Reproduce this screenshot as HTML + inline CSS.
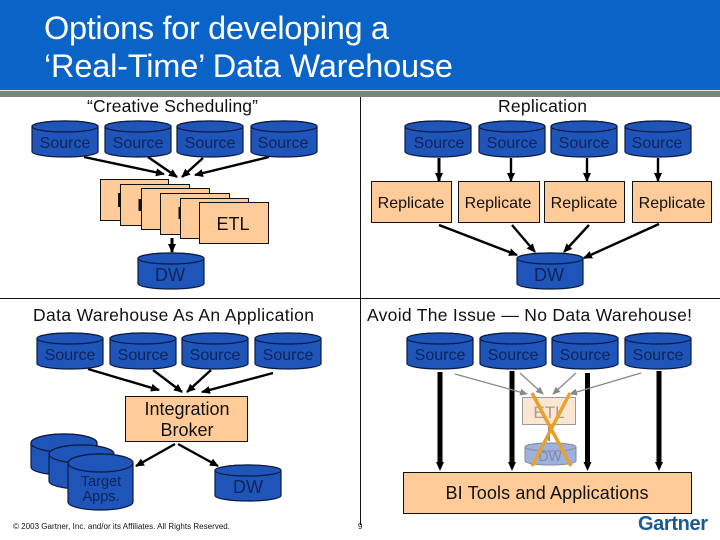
<!DOCTYPE html>
<html><head><meta charset="utf-8"><style>
html,body{margin:0;padding:0;background:#fff;width:720px;height:540px;overflow:hidden}
svg{display:block}
text{font-family:"Liberation Sans",sans-serif}
.s{font-size:16px;fill:#0e2358;text-anchor:middle}
.d{font-size:18px;fill:#0e2358;text-anchor:middle}
.h{font-size:17.5px;fill:#111}
.r{font-size:16px;fill:#111;text-anchor:middle}
.b{fill:#ffcc99;stroke:#111;stroke-width:1}
.c{fill:#1f55b8;stroke:#0a1a40;stroke-width:1.2}
.a{stroke:#000;stroke-width:2.4;fill:none;marker-end:url(#m)}
.g{stroke:#888;stroke-width:1.3;fill:none;marker-end:url(#mg)}
.t{stroke:#000;stroke-width:5;fill:none}
</style></head><body>
<svg width="720" height="540" viewBox="0 0 720 540" xmlns="http://www.w3.org/2000/svg">
<defs>
<marker id="m" markerUnits="userSpaceOnUse" markerWidth="9" markerHeight="8" refX="8" refY="4" orient="auto"><path d="M0 0L9 4L0 8Z" fill="#000"/></marker>
<marker id="mg" markerUnits="userSpaceOnUse" markerWidth="8" markerHeight="7" refX="7" refY="3.5" orient="auto"><path d="M0 0L8 3.5L0 7Z" fill="#888"/></marker>
<g id="cy"><path class="c" d="M0 5.5A33 5.5 0 0 1 66 5.500V30.500A33 5.5 0 0 1 0 30.500Z"/><ellipse class="c" cx="33" cy="5.5" rx="33" ry="5.5"/></g>
</defs>
<rect x="0" y="0" width="720" height="90" fill="#0a63c6"/>
<rect x="0" y="90" width="720" height="1" fill="#e8e8e8"/>
<rect x="0" y="91" width="720" height="6" fill="#808080"/>
<text x="44" y="39" font-size="32.500" fill="#fff" textLength="345" lengthAdjust="spacing">Options for developing a</text>
<text x="44" y="77" font-size="32.500" fill="#fff" textLength="409" lengthAdjust="spacing">‘Real-Time’ Data Warehouse</text>
<rect x="360" y="97" width="1" height="428" fill="#111"/>
<rect x="0" y="298" width="720" height="1" fill="#111"/>

<text class="h" x="87" y="112" textLength="171" lengthAdjust="spacing">“Creative Scheduling”</text>
<text class="h" x="498" y="112" textLength="89" lengthAdjust="spacing">Replication</text>
<text class="h" x="33" y="321" textLength="281" lengthAdjust="spacing">Data Warehouse As An Application</text>
<text class="h" x="367" y="321" textLength="325" lengthAdjust="spacing">Avoid The Issue — No Data Warehouse!</text>

<!-- top left -->
<path class="a" d="M84 157L164 174"/><path class="a" d="M148 157L177 177"/><path class="a" d="M203 158L182 177"/><path class="a" d="M269 157L195 175"/>
<use href="#cy" x="32" y="121"/><use href="#cy" x="105" y="121"/><use href="#cy" x="177" y="121"/><use href="#cy" x="251" y="121"/>
<text class="s" x="65" y="148">Source</text><text class="s" x="138" y="148">Source</text><text class="s" x="210" y="148">Source</text><text class="s" x="283" y="148">Source</text>
<rect class="b" x="100.500" y="179.500" width="68" height="41"/><rect x="118" y="193" width="2.500" height="14" fill="#111"/>
<rect class="b" x="120.500" y="184.500" width="69" height="41"/><rect x="138.500" y="199" width="2.500" height="12" fill="#111"/>
<rect class="b" x="141.500" y="188.500" width="68" height="41"/>
<rect class="b" x="160.500" y="193.500" width="69" height="41"/><rect x="178.500" y="207" width="2.500" height="12" fill="#111"/>
<rect class="b" x="180.500" y="198.500" width="68" height="40"/>
<rect class="b" x="199.500" y="202.500" width="69" height="41"/>
<text x="233" y="230" font-size="18" fill="#111" text-anchor="middle">ETL</text>
<path class="a" d="M172 238V252" style="stroke-width:3"/>
<use href="#cy" x="138" y="253"/><text class="d" x="170" y="281">DW</text>

<!-- top right -->
<path class="a" d="M439 158V181" style="stroke-width:3"/><path class="a" d="M511 158V181"/><path class="a" d="M587 158V181"/><path class="a" d="M658 158V181"/>
<use href="#cy" x="405" y="121"/><use href="#cy" x="479" y="121"/><use href="#cy" x="551" y="121"/><use href="#cy" x="625" y="121"/>
<text class="s" x="439" y="148">Source</text><text class="s" x="512" y="148">Source</text><text class="s" x="584" y="148">Source</text><text class="s" x="657" y="148">Source</text>
<rect class="b" x="371.500" y="181.500" width="80" height="41"/><rect class="b" x="458.500" y="181.500" width="81" height="41"/><rect class="b" x="544.500" y="181.500" width="80" height="41"/><rect class="b" x="632.500" y="181.500" width="79" height="41"/>
<text class="r" x="411" y="208">Replicate</text><text class="r" x="498" y="208">Replicate</text><text class="r" x="584" y="208">Replicate</text><text class="r" x="672" y="208">Replicate</text>
<path class="a" d="M439 225L517 255"/><path class="a" d="M512 225L535 252"/><path class="a" d="M589 225L564 252"/><path class="a" d="M659 224L584 258"/>
<use href="#cy" x="517" y="253"/><text class="d" x="549" y="281">DW</text>

<!-- bottom left -->
<path class="a" d="M88 369L159 390"/><path class="a" d="M153 370L182 392"/><path class="a" d="M211 370L187 392"/><path class="a" d="M273 373L202 392"/>
<use href="#cy" x="37" y="333"/><use href="#cy" x="110" y="333"/><use href="#cy" x="182" y="333"/><use href="#cy" x="255" y="333"/>
<text class="s" x="70" y="360">Source</text><text class="s" x="143" y="360">Source</text><text class="s" x="215" y="360">Source</text><text class="s" x="288" y="360">Source</text>
<rect class="b" x="125.500" y="396.500" width="122" height="45"/>
<text x="187" y="415" font-size="18" fill="#111" text-anchor="middle">Integration</text>
<text x="187" y="436" font-size="18" fill="#111" text-anchor="middle">Broker</text>
<path class="a" d="M175 444L136 466"/><path class="a" d="M178 444L218 466"/>
<path class="c" d="M31 443A33 9 0 0 1 97 443V467A33 8 0 0 1 31 467Z"/><ellipse class="c" cx="64" cy="443" rx="33" ry="9"/>
<path class="c" d="M49 454A32.500 9 0 0 1 114 454V481A32.500 8 0 0 1 49 481Z"/><ellipse class="c" cx="81.500" cy="454" rx="32.500" ry="9"/>
<path class="c" d="M68 463A32.500 9 0 0 1 133 463V502A32.500 8 0 0 1 68 502Z"/><ellipse class="c" cx="100.500" cy="463" rx="32.500" ry="9"/>
<text x="101" y="486" font-size="14.500" fill="#0e2358" text-anchor="middle">Target</text>
<text x="101" y="501" font-size="14.500" fill="#0e2358" text-anchor="middle">Apps.</text>
<use href="#cy" x="215" y="465"/><text class="d" x="248" y="493">DW</text>

<!-- bottom right -->
<use href="#cy" x="407" y="333"/><use href="#cy" x="480" y="333"/><use href="#cy" x="552" y="333"/><use href="#cy" x="625" y="333"/>
<text class="s" x="440" y="360">Source</text><text class="s" x="513" y="360">Source</text><text class="s" x="585" y="360">Source</text><text class="s" x="658" y="360">Source</text>
<path class="t" d="M440 372V463"/><path d="M436 462H444L440 471Z" fill="#000"/>
<path class="t" d="M512 371V463"/><path d="M508 462H516L512 471Z" fill="#000"/>
<path class="t" d="M587.500 373V463"/><path d="M583.500 462H591.500L587.500 471Z" fill="#000"/>
<path class="t" d="M659 371V463"/><path d="M655 462H663L659 471Z" fill="#000"/>
<path class="g" d="M455 374L527 394"/><path class="g" d="M520 373L543 394"/><path class="g" d="M576 373L553 394"/><path class="g" d="M641 373L570 394"/>
<rect x="522.500" y="397.500" width="53" height="27" fill="#fbe6d2" stroke="#999"/>
<text x="549" y="418" font-size="17" fill="#a89a8c" text-anchor="middle">ETL</text>
<path d="M549 425V441" stroke="#888" stroke-width="2" fill="none"/>
<path d="M525 447A25.500 4 0 0 1 576 447V461A25.500 4 0 0 1 525 461Z" fill="#9db1de" stroke="#8a8a9a"/><ellipse cx="550.500" cy="447" rx="25.500" ry="4" fill="#9db1de" stroke="#8a8a9a"/>
<text x="550" y="461" font-size="14" fill="#7d8aa8" text-anchor="middle">DW</text>
<path d="M532 393L571 466M570 393L532 466" stroke="#e8a02e" stroke-width="3.500" fill="none"/>
<rect class="b" x="403.500" y="472.500" width="288" height="41"/>
<text x="547" y="499" font-size="18" fill="#111" text-anchor="middle" textLength="203" lengthAdjust="spacing">BI Tools and Applications</text>

<text x="13" y="529" font-size="8" fill="#111" textLength="217" lengthAdjust="spacing">© 2003 Gartner, Inc. and/or its Affiliates. All Rights Reserved.</text>
<text x="358" y="529" font-size="8" fill="#111">9</text>
<text x="638" y="530" font-size="20" font-weight="bold" fill="#1c5a8c" textLength="70" lengthAdjust="spacing">Gartner</text>
</svg>
</body></html>
